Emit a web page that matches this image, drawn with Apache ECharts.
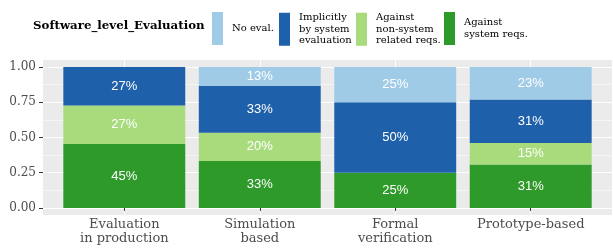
<!DOCTYPE html>
<html>
<head>
<meta charset="utf-8">
<script src="https://cdn.jsdelivr.net/npm/echarts@6/dist/echarts.min.js"></script>
<style>
  html, body { margin: 0; padding: 0; background: #fff; }
  #chart { width: 613px; height: 248px; }
</style>
</head>
<body>
<div id="chart"></div>
<script>
// categories + stacked shares (bottom to top)
var categories = ['Evaluation\nin production', 'Simulation\nbased', 'Formal\nverification', 'Prototype-based'];
var againstSystem = [0.4545, 0.3333, 0.25, 0.3077];
var againstNonSystem = [0.2727, 0.2, 0, 0.1538];
var implicitly = [0.2727, 0.3333, 0.5, 0.3077];
var noEval = [0, 0.1333, 0.25, 0.2308];
var yTicks = [0, 0.25, 0.5, 0.75, 1];
var yMinor = [0.125, 0.375, 0.625, 0.875];
var xCenters = [1, 2, 3, 4];

var names = ['No eval.', 'Implicitly\nby system\nevaluation', 'Against\nnon-system\nrelated reqs.', 'Against\nsystem reqs.'];
var colors = ['#9fcbe6', '#1f60aa', '#a7db7c', '#2e9a29'];

var chart = echarts.init(document.getElementById('chart'));

function pct(p) {
    return p.value > 0 ? Math.round(p.value * 100) + '%' : '';
}

function makeSeries(name, data, color) {
    return {
        name: name,
        type: 'bar',
        stack: 'all',
        xAxisIndex: 1,
        yAxisIndex: 1,
        barWidth: '90%',
        itemStyle: { color: color },
        label: {
            show: true,
            position: 'inside',
            formatter: pct,
            color: '#fff',
            fontFamily: 'Liberation Sans',
            fontSize: 13
        },
        data: data
    };
}

// one legend per key so each sits where ggplot put it
var legendLeft = [212, 279, 356, 444];
var legends = names.map(function (n, i) {
    return {
        data: [n],
        left: legendLeft[i],
        top: 12,
        orient: 'horizontal',
        icon: 'rect',
        itemWidth: 11,
        itemHeight: 33,
        selectedMode: false,
        padding: 0,
        textStyle: {
            fontFamily: 'DejaVu Serif',
            fontSize: 10,
            lineHeight: 11.5,
            color: '#000',
            padding: [0, 0, 0, 4]
        }
    };
});

var option = {
    animation: false,
    title: {
        text: 'Software_level_Evaluation',
        left: 33,
        top: 20,
        padding: 0,
        textStyle: { fontFamily: 'DejaVu Serif', fontWeight: 'bold', fontSize: 11.8, color: '#000' }
    },
    legend: legends,
    grid: [
        { left: 43, right: 1, top: 60, bottom: 33, show: true, backgroundColor: '#ebebeb', borderWidth: 0 },
        { left: 56.55, right: 14.55, top: 60, bottom: 33 }
    ],
    xAxis: [
        {
            type: 'value', gridIndex: 0, min: 0.4, max: 4.6,
            axisLine: { show: false },
            axisTick: { show: false, customValues: xCenters },
            axisLabel: { show: false },
            splitLine: { show: true, lineStyle: { color: '#fff', width: 1.1 } }
        },
        {
            type: 'category', gridIndex: 1, data: categories,
            axisLine: { show: false },
            axisTick: { show: true, alignWithLabel: true, length: 3, lineStyle: { color: '#333' } },
            axisLabel: { interval: 0, fontFamily: 'DejaVu Serif', fontSize: 13, lineHeight: 14, color: '#4d4d4d', margin: 3 },
            splitLine: { show: false }
        }
    ],
    yAxis: [
        {
            type: 'value', gridIndex: 0, min: -0.05, max: 1.05,
            axisLine: { show: false },
            axisTick: { show: true, length: 4, customValues: yTicks, lineStyle: { color: '#333' } },
            axisLabel: {
                customValues: yTicks, margin: 7,
                fontFamily: 'DejaVu Serif', fontSize: 12, color: '#4d4d4d',
                formatter: function (v) { return v.toFixed(2); }
            },
            splitLine: { show: true, lineStyle: { color: '#fff', width: 1.1 } }
        },
        {
            type: 'value', gridIndex: 1, min: -0.05, max: 1.05, show: false
        },
        {
            type: 'value', gridIndex: 0, min: -0.05, max: 1.05,
            axisLine: { show: false },
            axisTick: { show: false, customValues: yMinor },
            axisLabel: { show: false },
            splitLine: { show: true, lineStyle: { color: '#fff', width: 0.5 } }
        }
    ],
    series: [
        makeSeries(names[3], againstSystem, colors[3]),
        makeSeries(names[2], againstNonSystem, colors[2]),
        makeSeries(names[1], implicitly, colors[1]),
        makeSeries(names[0], noEval, colors[0])
    ]
};

chart.setOption(option);
</script>
</body>
</html>
